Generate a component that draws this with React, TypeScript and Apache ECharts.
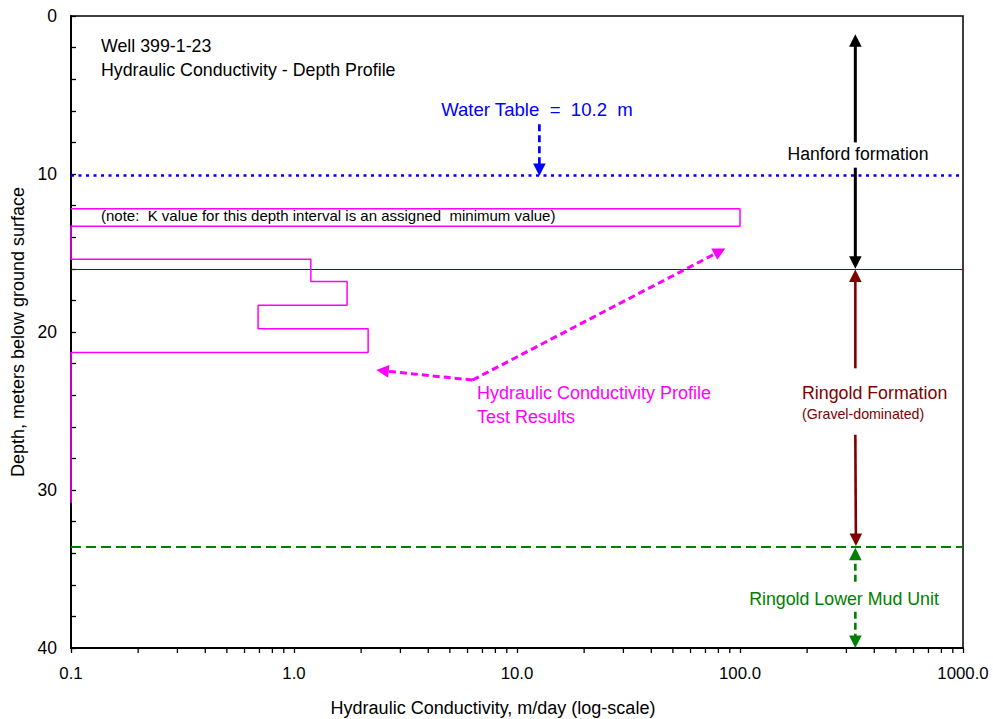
import React, { useEffect, useRef } from "react";
import * as echarts from "echarts";

const FONT = "'Liberation Sans', Arial, Helvetica, sans-serif";

// Axis ranges / ticks
const depthMin = 0;
const depthMax = 40;
const depthInterval = 10;
const kMin = 0.1;
const kMax = 1000;
const kMinorTicks = [
  0.2, 0.3, 0.4, 0.5, 0.6, 0.7, 0.8, 0.9,
  2, 3, 4, 5, 6, 7, 8, 9,
  20, 30, 40, 50, 60, 70, 80, 90,
  200, 300, 400, 500, 600, 700, 800, 900,
];

// Hydraulic conductivity test intervals (depth m, K m/day)
const intervalTop = [12.2, 15.4, 16.8, 18.3, 19.8];
const intervalBottom = [13.3, 16.8, 18.3, 19.8, 21.3];
const intervalK = [100, 1.19, 1.73, 0.69, 2.15];
const kFloor = 0.1;
const profileEndDepth = 30.8;

// Horizons (depth m)
const waterTableDepth = 10.1;
const hanfordBaseDepth = 16.0;
const lowerMudTopDepth = 33.6;

// Annotation arrows in data coordinates [K, depth]
const arrowFrom: [number, number][] = [
  [12.6, 6.85],
  [329, 8.0],
  [329, 9.6],
  [329, 22.3],
  [329, 26.5],
  [329, 35.8],
  [329, 37.7],
  [6.32, 23.04],
  [6.32, 23.04],
];
const arrowTo: [number, number][] = [
  [12.6, 10.12],
  [329, 1.15],
  [329, 16.0],
  [329, 16.05],
  [331, 33.55],
  [329, 33.65],
  [329, 40.0],
  [2.34, 22.41],
  [86, 14.71],
];
const arrowColor = [
  "#0000FF", "#000000", "#000000", "#800000", "#800000",
  "#008000", "#008000", "#FF00FF", "#FF00FF",
];
const arrowWidth = [2.7, 3, 3, 2.6, 2.6, 2.6, 2.6, 3, 3];
const arrowDashed = [true, false, false, false, false, true, true, true, true];

function buildProfile(): [number, number][] {
  const pts: [number, number][] = [];
  const n = intervalTop.length;
  for (let i = 0; i < n; i++) {
    const t = intervalTop[i];
    const b = intervalBottom[i];
    const k = intervalK[i];
    if (i === 0 || t !== intervalBottom[i - 1]) pts.push([kFloor, t]);
    pts.push([k, t], [k, b]);
    if (i === n - 1 || intervalTop[i + 1] !== b) pts.push([kFloor, b]);
  }
  pts.push([kFloor, profileEndDepth]);
  return pts;
}

function txt(
  text: string,
  x: number,
  y: number,
  color: string,
  size: number,
  align: string = "left",
  rotation: number = 0
) {
  return {
    type: "text",
    x,
    y,
    rotation,
    silent: true,
    z: 20,
    style: {
      text,
      fill: color,
      font: `${size}px ${FONT}`,
      fontSize: size,
      fontFamily: FONT,
      align,
      textAlign: align,
      verticalAlign: "middle",
      textVerticalAlign: "middle",
    },
  };
}

export default function App() {
  const ref = useRef<HTMLDivElement>(null);

  useEffect(() => {
    document.body.style.margin = "0";
    if (!ref.current) return;
    const chart = echarts.init(ref.current, undefined, { renderer: "svg" });

    const option: any = {
      animation: false,
      backgroundColor: "#ffffff",
      textStyle: { fontFamily: FONT },
      grid: {
        left: 71,
        top: 16,
        right: 30,
        bottom: 71,
        show: true,
        borderColor: "#000",
        borderWidth: 1.5,
        backgroundColor: "transparent",
      },
      xAxis: {
        type: "log",
        logBase: 10,
        min: kMin,
        max: kMax,
        axisLine: { show: true, onZero: false, lineStyle: { color: "#000", width: 2 } },
        axisTick: { show: true, inside: false, length: 5, lineStyle: { color: "#000", width: 1.3 } },
        minorTick: { show: false },
        splitLine: { show: false },
        axisLabel: {
          color: "#000",
          fontSize: 16.8,
          fontFamily: FONT,
          margin: 17,
          formatter: (v: number) => Number(v).toFixed(1),
        },
      },
      yAxis: {
        type: "value",
        inverse: true,
        min: depthMin,
        max: depthMax,
        interval: depthInterval,
        axisLine: { show: true, onZero: false, lineStyle: { color: "#000", width: 2 } },
        axisTick: { show: true, inside: true, length: 5, lineStyle: { color: "#000", width: 1.3 } },
        minorTick: { show: true, splitNumber: 5, length: 5, lineStyle: { color: "#000", width: 1.3 } },
        splitLine: { show: false },
        minorSplitLine: { show: false },
        axisLabel: { color: "#000", fontSize: 17.5, fontFamily: FONT, margin: 14 },
      },
      series: [
        {
          type: "line",
          data: buildProfile(),
          symbol: "none",
          clip: false,
          z: 3,
          lineStyle: { color: "#FF00FF", width: 1.5 },
          markLine: {
            silent: true,
            symbol: ["none", "none"],
            label: { show: false },
            z: 2,
            data: [
              { yAxis: waterTableDepth, lineStyle: { color: "#0000FF", width: 2.6, type: [3, 4.5] } },
              { yAxis: hanfordBaseDepth, lineStyle: { color: "#800000", width: 1, type: "solid" } },
              { yAxis: lowerMudTopDepth, lineStyle: { color: "#008000", width: 1.8, type: [10, 5] } },
            ],
          },
        },
        {
          type: "custom",
          coordinateSystem: "cartesian2d",
          clip: false,
          silent: true,
          z: 4,
          data: kMinorTicks.map((v) => [v, depthMax]),
          encode: { x: 0, y: 1 },
          renderItem: (_params: any, api: any) => {
            const p = api.coord([api.value(0), api.value(1)]);
            return {
              type: "line",
              shape: { x1: p[0], y1: p[1], x2: p[0], y2: p[1] + 5 },
              style: { stroke: "#000", lineWidth: 1.3 },
            };
          },
        },
        {
          type: "custom",
          coordinateSystem: "cartesian2d",
          clip: false,
          silent: true,
          z: 6,
          data: arrowFrom.map((f, i) => [f[0], f[1], arrowTo[i][0], arrowTo[i][1]]),
          encode: { x: [0, 2], y: [1, 3] },
          renderItem: (params: any, api: any) => {
            const i = params.dataIndex;
            const p1 = api.coord([api.value(0), api.value(1)]);
            const p2 = api.coord([api.value(2), api.value(3)]);
            const dx = p2[0] - p1[0];
            const dy = p2[1] - p1[1];
            const len = Math.hypot(dx, dy) || 1;
            const ux = dx / len;
            const uy = dy / len;
            const h = 12.5;
            const w = 6.3;
            const bx = p2[0] - ux * h;
            const by = p2[1] - uy * h;
            const color = arrowColor[i];
            return {
              type: "group",
              children: [
                {
                  type: "line",
                  shape: { x1: p1[0], y1: p1[1], x2: bx + ux * 1, y2: by + uy * 1 },
                  style: {
                    stroke: color,
                    lineWidth: arrowWidth[i],
                    lineDash: arrowDashed[i] ? [7, 4] : null,
                  },
                },
                {
                  type: "polygon",
                  shape: {
                    points: [
                      [p2[0], p2[1]],
                      [bx - uy * w, by + ux * w],
                      [bx + uy * w, by - ux * w],
                    ],
                  },
                  style: { fill: color },
                },
              ],
            };
          },
        },
      ],
      graphic: [
        txt("Well 399-1-23", 101, 46, "#000", 17.8),
        txt("Hydraulic Conductivity - Depth Profile", 101, 70, "#000", 17.8),
        txt("Water Table  =  10.2  m", 537, 109, "#0000FF", 18.6, "center"),
        txt("(note:  K value for this depth interval is an assigned  minimum value)", 101, 215, "#000", 15),
        txt("Hanford formation", 858, 154, "#000", 17.6, "center"),
        txt("Ringold Formation", 802, 393, "#800000", 17.8),
        txt("(Gravel-dominated)", 802, 414, "#800000", 14.2),
        txt("Hydraulic Conductivity Profile", 477, 393, "#FF00FF", 18),
        txt("Test Results", 477, 417, "#FF00FF", 18),
        txt("Ringold Lower Mud Unit", 844, 599, "#008000", 17.8, "center"),
        txt("Hydraulic Conductivity, m/day (log-scale)", 493, 708, "#000", 18, "center"),
        txt("Depth, meters below ground surface", 18, 332, "#000", 18, "center", Math.PI / 2),
      ],
    };

    chart.setOption(option);
    return () => {
      chart.dispose();
    };
  }, []);

  return (
    <div
      ref={ref}
      style={{ position: "fixed", left: 0, top: 0, width: 993, height: 719, background: "#fff" }}
    />
  );
}
